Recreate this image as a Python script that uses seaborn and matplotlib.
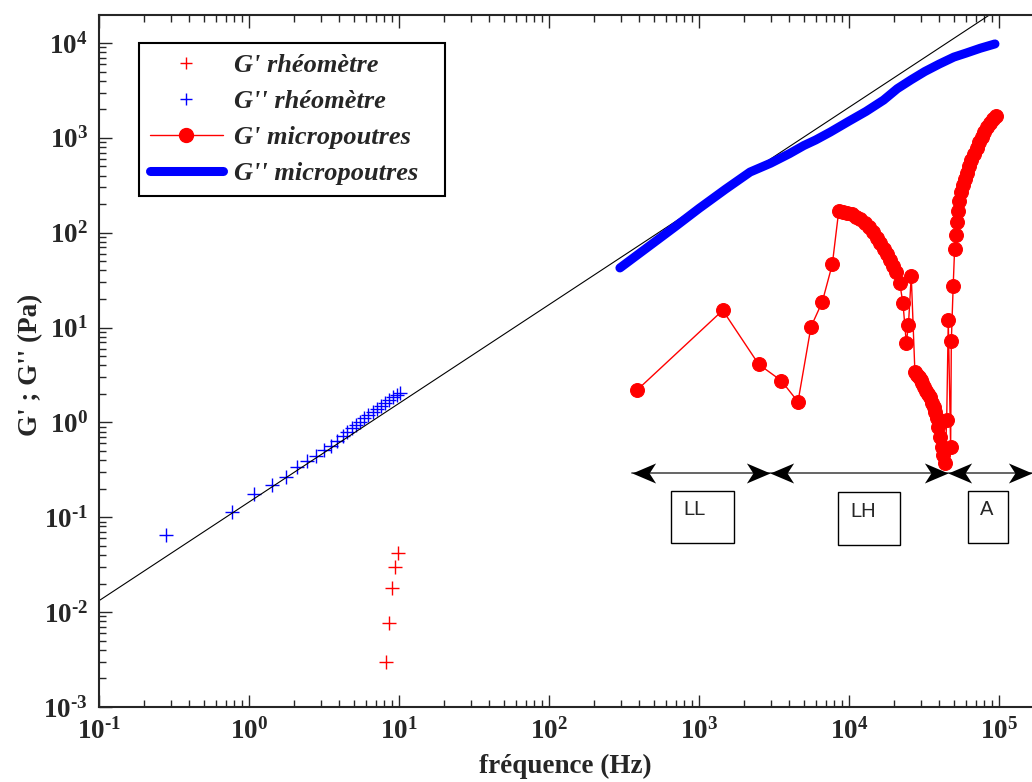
import numpy as np
import matplotlib
matplotlib.use('Agg')
import matplotlib.pyplot as plt
from matplotlib.lines import Line2D
from matplotlib.patches import Rectangle
from matplotlib.path import Path
from matplotlib.ticker import LogLocator, FuncFormatter, NullFormatter
import seaborn as sns

# G' / G'' measured with the rheometer
rheo_f_g2 = [0.28, 0.77, 1.08, 1.42, 1.76, 2.10, 2.45, 2.80, 3.16, 3.51, 3.85, 4.21,
             4.52, 4.84, 5.17, 5.5, 5.84, 6.24, 6.68, 7.1, 7.55, 8.07, 8.58, 9.08,
             9.66, 10.2]
rheo_g2 = [0.065, 0.113, 0.176, 0.220, 0.268, 0.341, 0.392, 0.446, 0.512, 0.568,
           0.641, 0.719, 0.798, 0.867, 0.94, 1.02, 1.10, 1.19, 1.29, 1.38, 1.49,
           1.59, 1.72, 1.84, 1.95, 2.06]
rheo_f_g1 = [8.15, 8.54, 8.98, 9.4, 9.9]
rheo_g1 = [0.0030, 0.0076, 0.018, 0.030, 0.042]

# G' micro-cantilevers
micro_f_g1 = [385, 1440, 2500, 3540, 4570, 5580, 6630, 7740,
              8540, 9100, 9700, 10400, 11100, 11900, 12700, 13500, 14400, 15300,
              16200, 17100, 18000, 18800, 19600, 20500,
              21800, 22900, 24100, 24900, 26000, 27500,
              28300, 29200, 30000, 30800, 31700, 32700, 33700, 34700, 35700,
              36600, 37500, 38400, 39400, 40400, 41500, 42500, 43650,
              44800, 45900, 47600, 48100, 49500, 50600,
              51500, 52500, 53500, 54500, 56000, 57500, 59000, 61000, 63000,
              65500, 68000, 71000, 74000, 77000, 80000, 83500, 87000, 91000, 95000]
micro_g1 = [2.18, 15.2, 4.1, 2.75, 1.65, 10.2, 18.6, 46.4,
            169, 167, 163, 157, 148, 138, 127, 114, 101, 89,
            78, 68, 59, 52, 45, 38.8,
            29.2, 18, 6.9, 10.6, 35.2, 3.42,
            3.2, 3.0, 2.8, 2.58, 2.35, 2.15, 2.0, 1.87, 1.6,
            1.45, 1.30, 1.1, 0.90, 0.71, 0.555, 0.45, 0.37,
            1.06, 12, 0.546, 7.2, 27.6, 68,
            95, 130, 170, 215, 270, 320, 370, 430, 500,
            590, 680, 790, 900, 1020, 1150, 1300, 1430, 1580, 1720]

# G'' micro-cantilevers
micro_f_g2 = [297, 500, 700, 1000, 1500, 2190, 3000, 4000, 5000, 6000, 7500,
              10000, 13000, 17000, 21000, 26000, 32000, 40000, 50000, 60000,
              75000, 94000]
micro_g2 = [42.5, 78.6, 117, 180, 287, 436, 540, 680, 830, 950, 1150,
            1500, 1900, 2500, 3300, 4100, 5000, 6000, 7100, 7800, 8800, 9770]

# power-law guide line
line_f = [0.1, 1e5]
line_g = [0.0132, 2.3e4]

# regimes
regime_edges = [356, 2970, 45900, 165000]
regime_names = ['LL', 'LH', 'A']
arrow_level = 0.29

legend_labels = ["G' rhéomètre", "G'' rhéomètre", "G' micropoutres", "G'' micropoutres"]

sns.set_style('ticks')
plt.rcParams['font.family'] = ['Liberation Serif', 'DejaVu Serif']
plt.rcParams['mathtext.fontset'] = 'custom'
plt.rcParams['mathtext.rm'] = 'Liberation Serif:bold'
plt.rcParams['mathtext.bf'] = 'Liberation Serif:bold'
plt.rcParams['mathtext.it'] = 'Liberation Serif:bold:italic'

fig = plt.figure(figsize=(10.32, 7.82), dpi=100)
ax = fig.add_axes([99 / 1032, 75 / 782, 936 / 1032, 692 / 782])
ax.set_xscale('log')
ax.set_yscale('log')

sns.lineplot(x=line_f, y=line_g, color='black', lw=0.8, ax=ax, legend=False)
sns.lineplot(x=micro_f_g2, y=micro_g2, color='blue', lw=6.5, ax=ax,
             sort=False, estimator=None, legend=False)
sns.lineplot(x=micro_f_g1, y=micro_g1, color='red', lw=1, marker='o',
             markersize=10, markeredgecolor='red', ax=ax,
             sort=False, estimator=None, legend=False)
sns.scatterplot(x=rheo_f_g2, y=rheo_g2, marker='+', color='blue', s=110,
                linewidth=1, ax=ax, legend=False)
sns.scatterplot(x=rheo_f_g1, y=rheo_g1, marker='+', color='red', s=110,
                linewidth=1, ax=ax, legend=False)

ax.set_xlim(0.1, 10 ** 5.24)
ax.set_ylim(1e-3, 10 ** 4.295)


def pow10(v, _):
    e = int(round(np.log10(v)))
    if e < 0:
        return r'$10^{\text{-}%d}$' % (-e)
    return r'$10^{%d}$' % e


fmt = FuncFormatter(pow10)
for axis in (ax.xaxis, ax.yaxis):
    axis.set_major_locator(LogLocator(base=10, numticks=20))
    axis.set_minor_locator(LogLocator(base=10, subs=np.arange(2, 10), numticks=20))
    axis.set_major_formatter(fmt)
    axis.set_minor_formatter(NullFormatter())
ax.tick_params(which='both', direction='in', top=True, right=False, width=1)
ax.tick_params(which='major', length=9, labelsize=19.5, pad=8)
ax.tick_params(which='minor', length=5)
for s in ax.spines.values():
    s.set_linewidth(1.5)
ax.spines['right'].set_visible(False)

ax.set_xlabel('fréquence (Hz)', fontsize=19.5, fontweight='bold')
ax.set_ylabel("G' ; G'' (Pa)", fontsize=19.5, fontweight='bold')
ax.xaxis.set_label_coords(0.498, -0.068)
ax.yaxis.set_label_coords(-0.06, 0.495)

# regime arrows: grey shaft + concave black heads
head_left = Path([(0, 0), (2, 0.85), (1.45, 0), (2, -0.85), (0, 0)],
                 [Path.MOVETO, Path.LINETO, Path.LINETO, Path.LINETO, Path.CLOSEPOLY])
head_right = Path([(0, 0), (-2, 0.85), (-1.45, 0), (-2, -0.85), (0, 0)],
                  [Path.MOVETO, Path.LINETO, Path.LINETO, Path.LINETO, Path.CLOSEPOLY])
ax.plot([regime_edges[0], regime_edges[-1]], [arrow_level, arrow_level],
        color='0.35', lw=1.3, clip_on=False, zorder=3)
ax.plot(regime_edges[:-1], [arrow_level] * len(regime_names), ls='none',
        marker=head_left, markersize=34, color='black', mew=0, clip_on=False, zorder=4)
ax.plot(regime_edges[1:], [arrow_level] * len(regime_names), ls='none',
        marker=head_right, markersize=34, color='black', mew=0, clip_on=False, zorder=4)

# regime boxes (figure fractions)
boxes = [(0.650, 0.305, 0.0608, 0.0669, 0.662, 0.348),
         (0.8117, 0.3031, 0.0607, 0.0674, 0.8236, 0.3453),
         (0.9383, 0.3052, 0.0388, 0.0669, 0.9496, 0.349)]
for name, (bx, by, bw, bh, tx, ty) in zip(regime_names, boxes):
    fig.add_artist(Rectangle((bx, by), bw, bh, transform=fig.transFigure,
                             fill=False, edgecolor='black', lw=1))
    fig.text(tx, ty, name, family='Liberation Sans', fontsize=14.5, va='center', ha='left')

handles = [Line2D([], [], ls='none', marker='+', color='red', markersize=9, mew=1),
           Line2D([], [], ls='none', marker='+', color='blue', markersize=9, mew=1),
           Line2D([], [], color='red', lw=1, marker='o', markersize=10),
           Line2D([], [], color='blue', lw=6.5)]
leg = ax.legend(handles, legend_labels, loc='upper left',
                bbox_to_anchor=(0.0427, 0.8, 0.327, 0.1595), mode='expand',
                borderaxespad=0, frameon=True, fancybox=False, edgecolor='black',
                prop=dict(family='Liberation Serif', weight='bold', style='italic', size=19),
                handlelength=2.8, borderpad=0.4, labelspacing=0.48, handletextpad=0.4)
leg.get_frame().set_linewidth(1.5)
leg.get_frame().set_alpha(1)

fig.savefig('out.png', dpi=100)
